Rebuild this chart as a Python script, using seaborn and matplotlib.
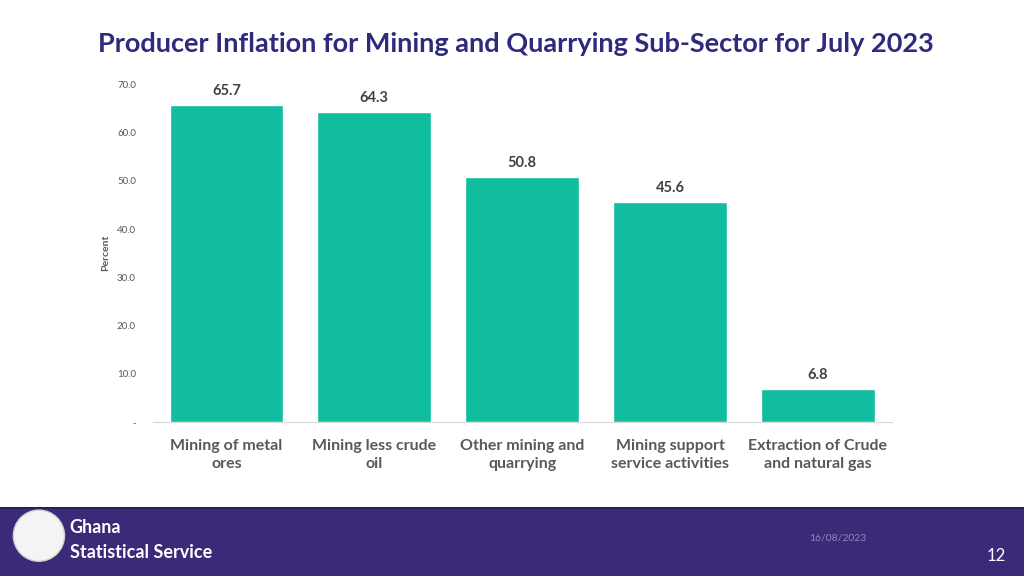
import matplotlib.pyplot as plt
import matplotlib.patches as mpatches
import seaborn as sns
import pandas as pd

categories = [
    "Mining of metal\nores",
    "Mining less crude\noil",
    "Other mining and\nquarrying",
    "Mining support\nservice activities",
    "Extraction of Crude\nand natural gas",
]
values = [65.7, 64.3, 50.8, 45.6, 6.8]
yticks = [0, 10, 20, 30, 40, 50, 60, 70]
ytick_labels = ["-", "10.0", "20.0", "30.0", "40.0", "50.0", "60.0", "70.0"]

sns.set_style("white")
plt.rcParams["font.family"] = ["Lato", "DejaVu Sans"]

df = pd.DataFrame({"sector": categories, "value": values})

fig = plt.figure(figsize=(10.24, 5.76), dpi=100)
ax = fig.add_axes([0.149, 0.267, 0.722, 0.587])

sns.barplot(data=df, x="sector", y="value", color="#10bd9e", saturation=1,
            width=0.77, ax=ax)

ax.set_ylim(0, 70)
ax.set_xlim(-0.5, 4.5)
ax.set_yticks(yticks)
ax.set_yticklabels(ytick_labels, fontsize=7, color="#555555")
ax.tick_params(axis="y", length=0, pad=12)
ax.tick_params(axis="x", length=0, pad=12)
for lab in ax.get_xticklabels():
    lab.set_fontsize(11.5)
    lab.set_fontweight("bold")
    lab.set_color("#595959")
    lab.set_linespacing(1.35)
ax.set_xlabel("")
ax.set_ylabel("Percent", fontsize=7.5, fontweight="bold", color="#595959", labelpad=5)

for side in ["top", "right", "left"]:
    ax.spines[side].set_visible(False)
ax.spines["bottom"].set_color("#d9d9d9")

for i, v in enumerate(values):
    ax.annotate(f"{v:.1f}", (i, v), xytext=(0, 5), textcoords="offset points",
                ha="center", va="bottom", fontsize=10.5, fontweight="bold",
                color="#404040")

fig.text(0.504, 0.923, "Producer Inflation for Mining and Quarrying Sub-Sector for July 2023",
         ha="center", va="center", fontsize=19.5, fontweight="bold", color="#2f2a7c")

# footer band
fig.patches.append(mpatches.Rectangle((0, 0), 1, 0.118, transform=fig.transFigure,
                                      facecolor="#3a2a78", edgecolor="none"))
fig.patches.append(mpatches.Rectangle((0, 0.116), 1, 0.004, transform=fig.transFigure,
                                      facecolor="#2a1f5e", edgecolor="none"))
fig.patches.append(mpatches.Ellipse((0.038, 0.07), 0.05, 0.05 * 1024 / 576,
                                    transform=fig.transFigure,
                                    facecolor="#f4f4f4", edgecolor="#cfcfcf", linewidth=1))
fig.text(0.068, 0.084, "Ghana", ha="left", va="center", fontsize=13, fontweight="bold",
         color="white")
fig.text(0.068, 0.041, "Statistical Service", ha="left", va="center", fontsize=13,
         fontweight="bold", color="white")
fig.text(0.818, 0.066, "16/08/2023", ha="center", va="center", fontsize=7.5, color="#8f87b8")
fig.text(0.973, 0.035, "12", ha="center", va="center", fontsize=12, color="white")

fig.savefig("out.png", dpi=100)
